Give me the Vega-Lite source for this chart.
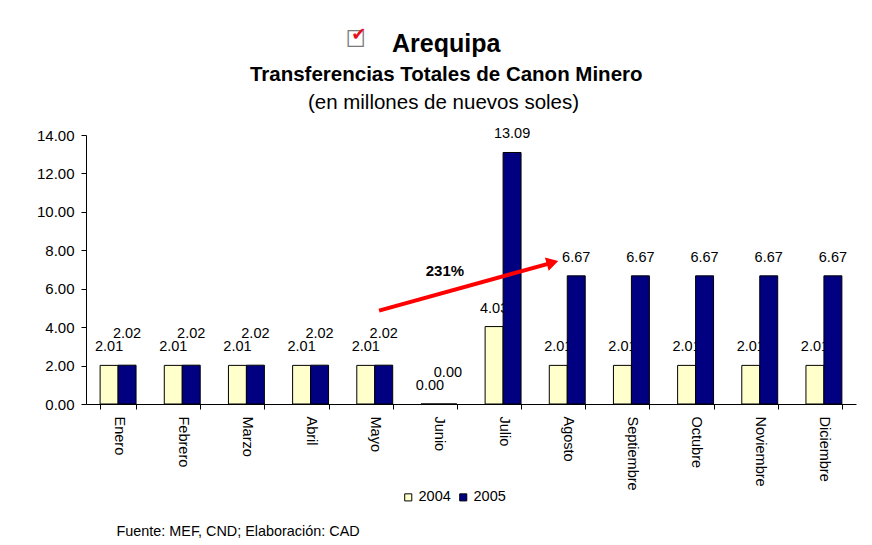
{
  "$schema": "https://vega.github.io/schema/vega-lite/v6.json",
  "width": 770,
  "height": 269,
  "padding": {"left": 36, "top": 26, "right": 10, "bottom": 5},
  "background": "white",
  "title": {
    "text": "Arequipa",
    "subtitle": "Transferencias Totales de Canon Minero",
    "font": "Liberation Sans",
    "fontSize": 25,
    "fontWeight": "bold",
    "color": "black",
    "subtitleFont": "Liberation Sans",
    "subtitleFontSize": 20.5,
    "subtitleFontWeight": "bold",
    "subtitleColor": "black",
    "subtitlePadding": 8,
    "anchor": "middle",
    "frame": "bounds",
    "offset": -59
  },
  "datasets": {
    "canon": [
      {"mes": "Enero", "anio": "2004", "valor": 2.01},
      {"mes": "Febrero", "anio": "2004", "valor": 2.01},
      {"mes": "Marzo", "anio": "2004", "valor": 2.01},
      {"mes": "Abril", "anio": "2004", "valor": 2.01},
      {"mes": "Mayo", "anio": "2004", "valor": 2.01},
      {"mes": "Junio", "anio": "2004", "valor": 0.0},
      {"mes": "Julio", "anio": "2004", "valor": 4.03},
      {"mes": "Agosto", "anio": "2004", "valor": 2.01},
      {"mes": "Septiembre", "anio": "2004", "valor": 2.01},
      {"mes": "Octubre", "anio": "2004", "valor": 2.01},
      {"mes": "Noviembre", "anio": "2004", "valor": 2.01},
      {"mes": "Diciembre", "anio": "2004", "valor": 2.01},
      {"mes": "Enero", "anio": "2005", "valor": 2.02},
      {"mes": "Febrero", "anio": "2005", "valor": 2.02},
      {"mes": "Marzo", "anio": "2005", "valor": 2.02},
      {"mes": "Abril", "anio": "2005", "valor": 2.02},
      {"mes": "Mayo", "anio": "2005", "valor": 2.02},
      {"mes": "Junio", "anio": "2005", "valor": 0.0},
      {"mes": "Julio", "anio": "2005", "valor": 13.09},
      {"mes": "Agosto", "anio": "2005", "valor": 6.67},
      {"mes": "Septiembre", "anio": "2005", "valor": 6.67},
      {"mes": "Octubre", "anio": "2005", "valor": 6.67},
      {"mes": "Noviembre", "anio": "2005", "valor": 6.67},
      {"mes": "Diciembre", "anio": "2005", "valor": 6.67}
    ]
  },
  "encoding": {
    "x": {
      "field": "mes",
      "type": "nominal",
      "title": "Fuente: MEF, CND; Elaboración: CAD",
      "scale": {
        "domain": ["Enero", "Febrero", "Marzo", "Abril", "Mayo", "Junio", "Julio", "Agosto", "Septiembre", "Octubre", "Noviembre", "Diciembre"],
        "paddingInner": 0.44,
        "paddingOuter": 0.22
      }
    },
    "y": {
      "field": "valor",
      "type": "quantitative",
      "title": "(en millones de nuevos soles)",
      "scale": {"domain": [0, 14], "nice": false, "zero": true}
    }
  },
  "layer": [
    {
      "data": {"name": "canon"},
      "transform": [{"filter": "datum.anio == '2004'"}],
      "mark": {"type": "text", "baseline": "alphabetic", "dy": -14, "font": "Liberation Sans", "fontSize": 14.5, "color": "black"},
      "encoding": {
        "xOffset": {"field": "anio", "type": "nominal", "scale": {"domain": ["2004", "2005"], "paddingInner": 0, "paddingOuter": 0}},
        "text": {"field": "valor", "type": "quantitative", "format": ".2f"}
      }
    },
    {
      "data": {"name": "canon"},
      "mark": {"type": "bar", "stroke": "black", "strokeWidth": 1},
      "encoding": {
        "xOffset": {"field": "anio", "type": "nominal", "scale": {"domain": ["2004", "2005"], "paddingInner": 0, "paddingOuter": 0}},
        "color": {
          "field": "anio",
          "type": "nominal",
          "scale": {"domain": ["2004", "2005"], "range": ["#FFFFCC", "#000080"]},
          "legend": {
            "orient": "none",
            "legendX": 315,
            "legendY": 355,
            "direction": "horizontal",
            "title": null,
            "symbolType": "square",
            "symbolSize": 50,
            "symbolStrokeColor": "black",
            "symbolStrokeWidth": 1,
            "labelFont": "Liberation Sans",
            "labelFontSize": 14.5,
            "labelColor": "black",
            "labelOffset": 3,
            "columnPadding": 5
          }
        }
      }
    },
    {
      "data": {"name": "canon"},
      "transform": [{"filter": "datum.anio == '2005' && datum.valor >= 3"}],
      "mark": {"type": "text", "baseline": "alphabetic", "dy": -14, "font": "Liberation Sans", "fontSize": 14.5, "color": "black"},
      "encoding": {
        "xOffset": {"field": "anio", "type": "nominal", "scale": {"domain": ["2004", "2005"], "paddingInner": 0, "paddingOuter": 0}},
        "text": {"field": "valor", "type": "quantitative", "format": ".2f"}
      }
    },
    {
      "data": {"name": "canon"},
      "transform": [{"filter": "datum.anio == '2005' && datum.valor < 3"}],
      "mark": {"type": "text", "baseline": "alphabetic", "dy": -27, "font": "Liberation Sans", "fontSize": 14.5, "color": "black"},
      "encoding": {
        "xOffset": {"field": "anio", "type": "nominal", "scale": {"domain": ["2004", "2005"], "paddingInner": 0, "paddingOuter": 0}},
        "text": {"field": "valor", "type": "quantitative", "format": ".2f"}
      }
    },
    {
      "data": {"values": [{"mes": "Mayo", "valor": 4.86, "mes2": "Agosto", "valor2": 7.36}]},
      "mark": {"type": "rule", "color": "#FF0000", "strokeWidth": 4},
      "encoding": {
        "x": {"field": "mes", "type": "nominal", "bandPosition": 0.62, "title": "Fuente: MEF, CND; Elaboración: CAD"},
        "x2": {"field": "mes2", "bandPosition": 0.09},
        "y": {"field": "valor", "type": "quantitative", "title": "(en millones de nuevos soles)"},
        "y2": {"field": "valor2"}
      }
    },
    {
      "data": {"values": [{"mes": "Agosto", "valor": 7.36}]},
      "mark": {"type": "point", "shape": "triangle-right", "filled": true, "color": "#FF0000", "size": 190, "angle": -16, "opacity": 1},
      "encoding": {
        "x": {"field": "mes", "type": "nominal", "bandPosition": 0.09, "title": "Fuente: MEF, CND; Elaboración: CAD"},
        "y": {"field": "valor", "type": "quantitative", "title": "(en millones de nuevos soles)"}
      }
    },
    {
      "data": {"values": [{"mes": "Junio", "valor": 6.92, "nota": "231%"}]},
      "mark": {"type": "text", "font": "Liberation Sans", "fontSize": 15, "fontWeight": "bold", "color": "black", "baseline": "middle", "dx": 6},
      "encoding": {
        "text": {"field": "nota"}
      }
    },
    {
      "data": {"values": [{"mes": "Mayo", "valor": 18.95, "icono": "☐"}]},
      "mark": {"type": "text", "font": "DejaVu Sans", "fontSize": 23, "color": "#7A7A7A", "baseline": "middle", "dx": -19},
      "encoding": {
        "text": {"field": "icono"}
      }
    },
    {
      "data": {"values": [{"mes": "Mayo", "valor": 19.2, "icono": "✔"}]},
      "mark": {"type": "text", "font": "DejaVu Sans", "fontSize": 18, "color": "#E8101E", "baseline": "middle", "dx": -16},
      "encoding": {
        "text": {"field": "icono"}
      }
    }
  ],
  "config": {
    "view": {"stroke": null},
    "font": "Liberation Sans",
    "axis": {
      "domainColor": "black",
      "tickColor": "black",
      "labelColor": "black",
      "titleColor": "black",
      "grid": false,
      "tickSize": 5,
      "labelFont": "Liberation Sans",
      "titleFont": "Liberation Sans"
    },
    "axisX": {
      "labelAngle": 90,
      "labelFontSize": 14.5,
      "labelPadding": 7,
      "tickBand": "extent",
      "titleX": 30,
      "titleY": 131,
      "titleAlign": "left",
      "titleAnchor": "start",
      "titleBaseline": "alphabetic",
      "titleFontSize": 14.4,
      "titleFontWeight": "normal"
    },
    "axisY": {
      "values": [0, 2, 4, 6, 8, 10, 12, 14],
      "format": ".2f",
      "labelFontSize": 15,
      "labelPadding": 7,
      "titleAngle": 0,
      "titleX": 357,
      "titleY": -27,
      "titleAlign": "center",
      "titleBaseline": "alphabetic",
      "titleFontSize": 20.5,
      "titleFontWeight": "normal"
    }
  }
}
